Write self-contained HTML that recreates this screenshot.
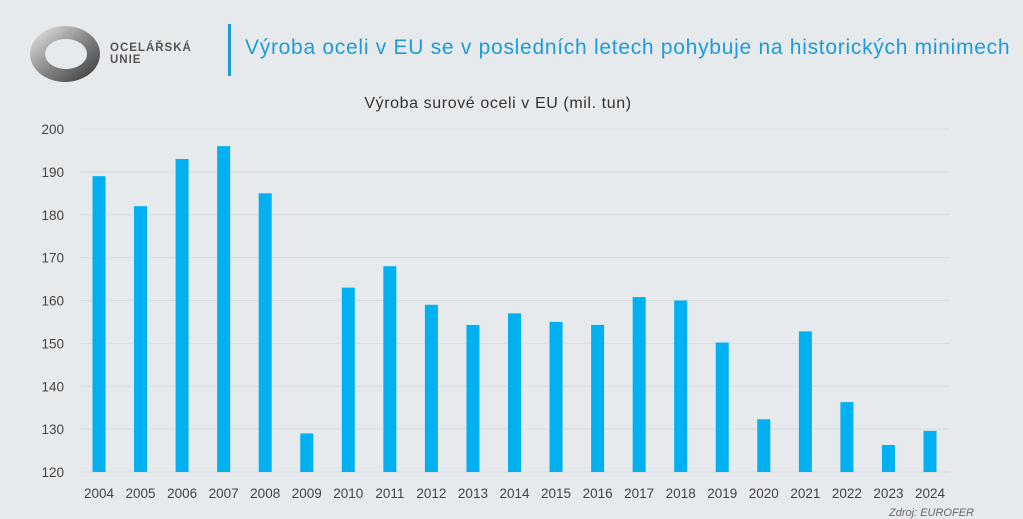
<!DOCTYPE html>
<html><head><meta charset="utf-8"><style>
body{margin:0;width:1023px;height:519px;background:#e7eaed;font-family:"Liberation Sans",sans-serif;overflow:hidden;position:relative}
.logo-text{position:absolute;left:110px;top:42px;font-weight:bold;font-size:11.5px;line-height:12px;color:#555;letter-spacing:1px}
.sep{position:absolute;left:228px;top:24px;width:3px;height:52px;background:#1e9bd7}
.title{position:absolute;left:245px;top:36px;font-size:21px;color:#1e9bd7;letter-spacing:0.72px}
</style></head><body>
<svg style="position:absolute;left:26px;top:24px" width="78" height="60" viewBox="0 0 78 60">
<defs><linearGradient id="g" x1="0" y1="0" x2="1" y2="1"><stop offset="0" stop-color="#eee"/><stop offset="0.5" stop-color="#888"/><stop offset="1" stop-color="#333"/></linearGradient></defs>
<ellipse cx="39" cy="30" rx="35" ry="28" fill="url(#g)"/><ellipse cx="40" cy="30" rx="21" ry="15" fill="#e7eaed"/></svg>
<div class="logo-text">OCELÁŘSKÁ<br>UNIE</div>
<div class="sep"></div>
<div class="title">Výroba oceli v EU se v posledních letech pohybuje na historických minimech</div>
<svg id="c" style="position:absolute;left:0;top:0" width="1023" height="519"></svg>
<script>
const categories=["2004","2005","2006","2007","2008","2009","2010","2011","2012","2013","2014","2015","2016","2017","2018","2019","2020","2021","2022","2023","2024"];
const values=[189,182,193,196,185,129,163,168,159,154.3,157,155,154.3,160.8,160,150.2,132.3,152.8,136.3,126.3,129.6];
const yTicks=[120,130,140,150,160,170,180,190,200];
const NS="http://www.w3.org/2000/svg",svg=document.getElementById('c');
const y=v=>472-(v-120)*(343/80);
const x=i=>99+i*41.55;
function mk(t,a,txt){const e=document.createElementNS(NS,t);for(const k in a)e.setAttribute(k,a[k]);if(txt!=null)e.textContent=txt;svg.appendChild(e);return e;}
let t=mk('text',{x:498,y:108,'text-anchor':'middle','font-size':16,'letter-spacing':0.6,fill:'#333'},'Výroba surové oceli v EU (mil. tun)');


yTicks.forEach(v=>{
 let l=mk('line',{x1:80,x2:950,y1:y(v),y2:y(v),stroke:'#d8dbde','stroke-width':1});
 
 
 let tx=mk('text',{x:64,y:y(v)+5,'text-anchor':'end','font-size':13.5,fill:'#444'},v);
 
 
});
categories.forEach((c,i)=>{
 let b=mk('rect',{x:x(i)-6.5,y:y(values[i]),width:13,height:472-y(values[i]),fill:'#00b0f0'});
 
 
 let tx=mk('text',{x:x(i),y:498,'text-anchor':'middle','font-size':13.5,fill:'#444'},c);
 
 
});
let s=mk('text',{x:974,y:516,'text-anchor':'end','font-size':11,fill:'#666','font-style':'italic'},'Zdroj: EUROFER');


</script>
</body></html>
